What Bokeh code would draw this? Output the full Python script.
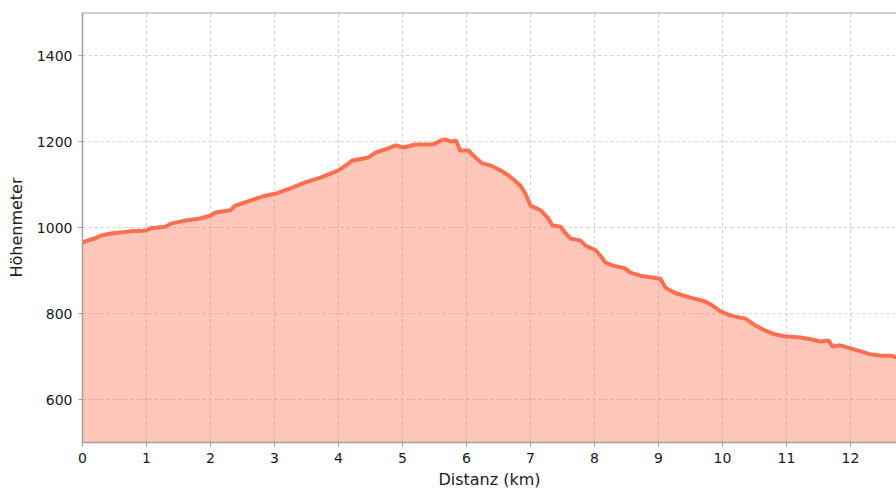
from bokeh.plotting import figure
from bokeh.models import Range1d, Span, FixedTicker
from bokeh.embed import file_html
from bokeh.resources import INLINE

dist_km = [0.0, 0.09, 0.2, 0.28, 0.44, 0.75, 1.0, 1.06, 1.3, 1.38, 1.6, 1.84, 2.0, 2.08,
           2.31, 2.39, 2.63, 2.81, 3.02, 3.25, 3.48, 3.72, 4.0, 4.11, 4.22, 4.47, 4.58,
           4.81, 4.89, 5.02, 5.2, 5.48, 5.59, 5.67, 5.75, 5.84, 5.9, 6.03, 6.14, 6.25,
           6.38, 6.53, 6.66, 6.84, 6.92, 7.0, 7.16, 7.28, 7.34, 7.47, 7.55, 7.63, 7.78,
           7.86, 8.02, 8.09, 8.17, 8.28, 8.48, 8.56, 8.72, 9.03, 9.11, 9.27, 9.5, 9.73,
           9.84, 9.97, 10.13, 10.36, 10.52, 10.67, 10.83, 10.98, 11.22, 11.38, 11.53,
           11.66, 11.72, 11.84, 12.0, 12.16, 12.31, 12.47, 12.63, 12.72, 12.8]
elev_m = [965, 970, 975, 981, 986, 991, 993, 998, 1002, 1009, 1016, 1021, 1028, 1035,
          1040, 1051, 1063, 1072, 1079, 1091, 1105, 1116, 1133, 1144, 1156, 1163, 1174,
          1186, 1191, 1186, 1193, 1193, 1202, 1205, 1200, 1202, 1179, 1179, 1163, 1149,
          1144, 1133, 1121, 1098, 1079, 1051, 1040, 1021, 1005, 1002, 986, 974, 970,
          958, 947, 935, 919, 912, 905, 895, 888, 881, 860, 847, 837, 828, 819, 805,
          795, 788, 772, 760, 751, 747, 744, 740, 735, 737, 723, 726, 719, 712, 705,
          702, 702, 698, 696]
x_ticks = list(range(0, 13))
y_ticks = [600, 800, 1000, 1200, 1400]
x_label = "Distanz (km)"
y_label = "Höhenmeter"

LINE = "#FF6E4E"
GRID = "#d0d0d0"
AX = "#a0a0a0"
FONT = "DejaVu Sans"

p = figure(width=896, height=494, output_backend="svg", toolbar_location=None,
           x_range=Range1d(0, 12.72), y_range=Range1d(500, 1500),
           min_border_left=82, min_border_right=0, min_border_top=12, min_border_bottom=52)
p.outline_line_color = None
p.background_fill_color = "white"
p.border_fill_color = "white"

p.varea(x=dist_km, y1=[500] * len(dist_km), y2=elev_m, fill_color=LINE, fill_alpha=0.39)
p.line(x=dist_km, y=elev_m, line_color=LINE, line_width=4)

p.add_layout(Span(location=1500, dimension="width", line_color=AX, line_width=2))

p.xaxis.ticker = FixedTicker(ticks=x_ticks)
p.yaxis.ticker = FixedTicker(ticks=y_ticks)
for ax in (p.xaxis, p.yaxis):
    ax.axis_line_color = AX
    ax.axis_line_width = 1.5
    ax.major_tick_line_color = AX
    ax.major_tick_out = 4
    ax.major_tick_in = 0
    ax.minor_tick_line_color = None
    ax.major_label_text_font = FONT
    ax.major_label_text_font_size = "14px"
    ax.major_label_text_color = "#1a1a1a"
    ax.axis_label_text_font = FONT
    ax.axis_label_text_font_size = "16px"
    ax.axis_label_text_font_style = "normal"
    ax.axis_label_text_color = "#222222"
p.xaxis.axis_label = x_label
p.yaxis.axis_label = y_label
p.xaxis.major_label_standoff = 6
p.xaxis.axis_label_standoff = 4
p.yaxis.major_label_standoff = 6
p.yaxis.axis_label_standoff = 8

for g in (p.xgrid, p.ygrid):
    g.grid_line_color = GRID
    g.grid_line_dash = "3 3"
    g.grid_line_width = 1
p.xgrid.ticker = FixedTicker(ticks=x_ticks)
p.ygrid.ticker = FixedTicker(ticks=y_ticks)

open("out.html", "w").write(file_html(p, INLINE))
